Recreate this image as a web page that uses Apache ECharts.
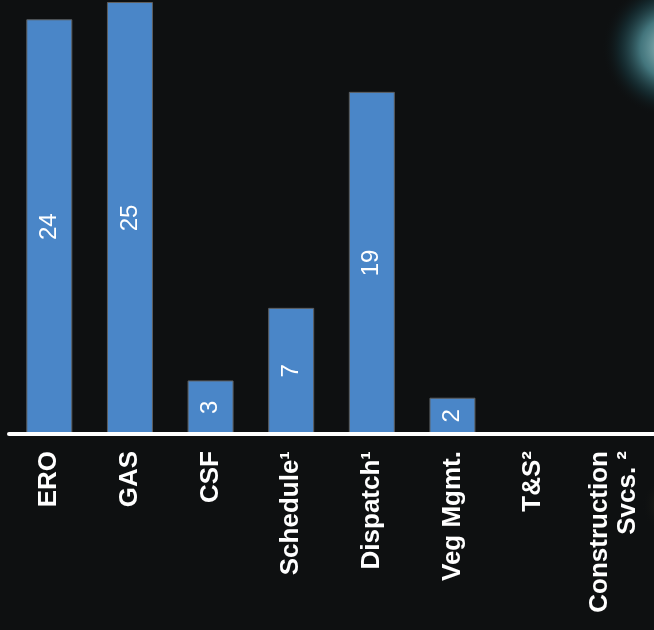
<!DOCTYPE html>
<html>
<head>
<meta charset="utf-8">
<script src="https://cdn.jsdelivr.net/npm/echarts@6/dist/echarts.min.js"></script>
<style>
html,body{margin:0;padding:0;background:#0e1011;}
#chart{width:654px;height:630px;}
</style>
</head>
<body>
<div id="chart"></div>
<script>
// Data
var categories = ['ERO', 'GAS', 'CSF', 'Schedule\u00B9', 'Dispatch\u00B9', 'Veg Mgmt.', 'T&S\u00B2', 'Construction\nSvcs. \u00B2'];
var barValues = [24, 25, 3.1, 7.3, 19.8, 2.1, null, null];   // bar heights
var barLabels = ['24', '25', '3', '7', '19', '2', '', ''];   // printed value labels

var chart = echarts.init(document.getElementById('chart'));
var option = {
  backgroundColor: '#0e1011',
  animation: false,
  graphic: [
    {
      type: 'circle', z: 0, silent: true,
      shape: { cx: 672, cy: 48, r: 70 },
      style: {
        fill: {
          type: 'radial', x: 0.5, y: 0.5, r: 0.5,
          colorStops: [
            { offset: 0, color: 'rgba(190,225,225,0.95)' },
            { offset: 0.45, color: 'rgba(90,160,170,0.7)' },
            { offset: 0.75, color: 'rgba(30,80,90,0.35)' },
            { offset: 1, color: 'rgba(14,16,17,0)' }
          ]
        }
      }
    },
    {
      type: 'circle', z: 0, silent: true,
      shape: { cx: 672, cy: 505, r: 30 },
      style: {
        fill: {
          type: 'radial', x: 0.5, y: 0.5, r: 0.5,
          colorStops: [
            { offset: 0, color: 'rgba(120,110,70,0.45)' },
            { offset: 1, color: 'rgba(14,16,17,0)' }
          ]
        }
      }
    }
  ],
  grid: { left: 9, top: 2, width: 648, height: 432, containLabel: false },
  xAxis: {
    type: 'category',
    data: categories,
    z: 5,
    axisLine: { show: true, lineStyle: { color: '#ffffff', width: 4 } },
    axisTick: { show: false },
    axisLabel: {
      interval: 0,
      rotate: 90,
      margin: 17,
      color: '#ffffff',
      fontFamily: 'Liberation Sans, Arial, sans-serif',
      fontWeight: 'bold',
      fontSize: 26,
      lineHeight: 28
    },
    splitLine: { show: false }
  },
  yAxis: {
    type: 'value',
    min: 0,
    max: 25,
    show: false
  },
  series: [{
    type: 'bar',
    data: barValues,
    barWidth: 46,
    itemStyle: { color: '#4a86c8', borderColor: '#5e5e5e', borderWidth: 1 },
    label: {
      show: true,
      position: 'inside',
      rotate: 90,
      color: '#ffffff',
      fontFamily: 'Liberation Sans, Arial, sans-serif',
      fontSize: 24,
      formatter: function (p) { return barLabels[p.dataIndex]; }
    }
  }]
};
chart.setOption(option);
</script>
</body>
</html>
